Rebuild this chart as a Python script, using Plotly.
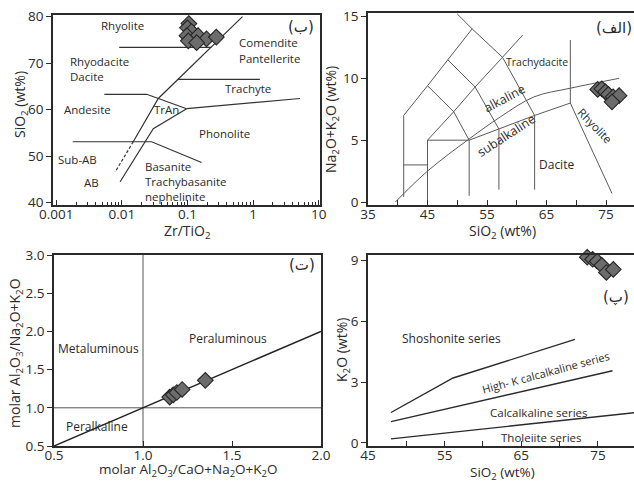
import plotly.graph_objects as go

W, H = 634, 483

# ---------------- DATA ----------------
# Panel (ب) : SiO2 vs Zr/TiO2 (Winchester & Floyd)
wf_zr_tio2 = [0.105, 0.100, 0.115, 0.098, 0.145, 0.195, 0.275, 0.103, 0.138]
wf_sio2 = [78.5, 77.6, 76.8, 75.9, 75.9, 75.2, 75.6, 74.8, 74.4]
wf_xticks = [0.001, 0.01, 0.1, 1, 10]
wf_xticktext = ["0.001", "0.01", "0.1", "1", "10"]
wf_yticks = [40, 50, 60, 70, 80]
# boundary lines
wf_rhy_x, wf_rhy_y = [0.0091, 0.23], [73.4, 73.4]
wf_main_x, wf_main_y = [0.69, 0.0359, 0.0149], [80.0, 62.4, 53.1]
wf_dash_x, wf_dash_y = [0.0149, 0.0079], [53.1, 46.6]
wf_inner_x, wf_inner_y = [0.0094, 0.0301, 0.097], [44.5, 55.9, 60.2]
wf_phon_x, wf_phon_y = [0.097, 5.17], [60.2, 62.4]
wf_and_x, wf_and_y = [0.0054, 0.0239, 0.097], [63.3, 63.3, 60.2]
wf_tra_x, wf_tra_y = [0.0716, 1.27], [66.5, 66.5]
wf_sub_x, wf_sub_y = [0.00178, 0.0284, 0.164], [53.1, 53.1, 48.65]

# Panel (الف) : TAS
tas_sio2 = [73.6, 74.3, 74.9, 75.4, 76.2, 77.2, 76.0]
tas_alk = [9.1, 9.15, 8.9, 8.7, 8.5, 8.6, 8.1]
tas_xticks = [35, 45, 55, 65, 75, 80]
tas_xminor = [40, 50, 60, 70]
tas_yticks = [0, 5, 10, 15]
tas_l1_x, tas_l1_y = [41, 41, 45, 48.4, 52.5], [0.4, 7, 9.4, 11.5, 14]
tas_pc_x, tas_pc_y = [41, 45], [3, 3]
tas_l2_x, tas_l2_y = [45, 45, 49.4, 53, 57.6, 61], [0, 5, 7.3, 9.3, 11.7, 13.5]
tas_b_x, tas_b_y = [45, 52, 52], [5, 5, 0.5]
tas_c1_x, tas_c1_y = [45, 49.4, 52], [9.4, 7.3, 5]
tas_c2_x, tas_c2_y = [48.4, 53, 57, 57], [11.5, 9.3, 5.9, 1]
tas_c3_x, tas_c3_y = [50, 52.5, 57.6, 63, 63], [15.2, 14, 11.7, 7, 1]
tas_sub_x, tas_sub_y = [52, 57, 63, 69], [5, 5.9, 7, 8]
tas_rh_x, tas_rh_y = [69, 69, 76], [13.1, 8, 0.7]
tas_ib_x = [39.6, 45, 52, 57.3, 62.9, 69, 77.2]
tas_ib_y = [0, 2.5, 5.1, 6.9, 8.5, 9.2, 10.0]

# Panel (ت) : A/NK vs A/CNK
ac_acnk = [1.15, 1.17, 1.19, 1.22, 1.35]
ac_ank = [1.14, 1.17, 1.20, 1.24, 1.36]
ac_xticks = [0.5, 1.0, 1.5, 2.0]
ac_xticktext = ["0.5", "1.0", "1.5", "2.0"]
ac_yticks = [0.5, 1.0, 1.5, 2.0, 2.5, 3.0]
ac_yticktext = ["0.5", "1.0", "1.5", "2.0", "2.5", "3.0"]
ac_diag_x, ac_diag_y = [0.5, 2.0], [0.5, 2.0]
ac_v_x, ac_v_y = [1.0, 1.0], [0.5, 3.0]
ac_h_x, ac_h_y = [0.5, 2.0], [1.0, 1.0]

# Panel (پ) : K2O vs SiO2
k_sio2 = [73.6, 74.3, 74.9, 75.5, 76.1, 77.0]
k_k2o = [9.15, 9.05, 8.95, 8.75, 8.4, 8.55]
k_xticks = [45, 55, 65, 75, 80]
k_xminor = [50, 60, 70]
k_yticks = [0, 3, 6, 9]
k_sh_x, k_sh_y = [48, 56.1, 72], [1.5, 3.2, 5.1]
k_hk_x, k_hk_y = [48, 76.9], [1.05, 3.56]
k_th_x, k_th_y = [48, 80], [0.2, 1.5]

# ---------------- FIGURE ----------------
FONT = "Open Sans"
INK = "#2a2a2a"
fig = go.Figure()


def line(xs, ys, n, color="#333333", width=1.1, dash="solid", shape="linear"):
    fig.add_trace(go.Scatter(
        x=xs, y=ys, xaxis="x" + n, yaxis="y" + n, mode="lines",
        line=dict(color=color, width=width, dash=dash, shape=shape),
        hoverinfo="skip", showlegend=False))


def pts(xs, ys, n):
    fig.add_trace(go.Scatter(
        x=xs, y=ys, xaxis="x" + n, yaxis="y" + n, mode="markers",
        marker=dict(symbol="diamond", size=12, color="#6c6c6c",
                    line=dict(color="#252525", width=1.1)),
        cliponaxis=False, showlegend=False))


# panel 1 (top-left)
for xs, ys in [(wf_rhy_x, wf_rhy_y), (wf_main_x, wf_main_y), (wf_inner_x, wf_inner_y),
               (wf_phon_x, wf_phon_y), (wf_and_x, wf_and_y), (wf_tra_x, wf_tra_y),
               (wf_sub_x, wf_sub_y)]:
    line(xs, ys, "", color="#333333", width=1.2)
line(wf_dash_x, wf_dash_y, "", color="#333333", width=1.2, dash="3px,2px")
pts(wf_zr_tio2, wf_sio2, "")

# panel 2 (top-right)
TG = "#5a5a5a"
for xs, ys in [(tas_l1_x, tas_l1_y), (tas_pc_x, tas_pc_y), (tas_l2_x, tas_l2_y),
               (tas_b_x, tas_b_y), (tas_c1_x, tas_c1_y), (tas_c2_x, tas_c2_y),
               (tas_c3_x, tas_c3_y), (tas_sub_x, tas_sub_y), (tas_rh_x, tas_rh_y)]:
    line(xs, ys, "2", color=TG, width=1.0)
line(tas_ib_x, tas_ib_y, "2", color=TG, width=1.0, shape="spline")
pts(tas_sio2, tas_alk, "2")

# panel 3 (bottom-left)
line(ac_v_x, ac_v_y, "3", color="#555555", width=1.0)
line(ac_h_x, ac_h_y, "3", color="#555555", width=1.0)
line(ac_diag_x, ac_diag_y, "3", color="#222222", width=1.5)
pts(ac_acnk, ac_ank, "3")

# panel 4 (bottom-right)
for xs, ys in [(k_sh_x, k_sh_y), (k_hk_x, k_hk_y), (k_th_x, k_th_y)]:
    line(xs, ys, "4", color="#2a2a2a", width=1.4)
pts(k_sio2, k_k2o, "4")

# ---------------- AXES ----------------
def px_x(p):
    return p / W


def px_y(p):
    return 1 - p / H


tickfont = dict(family=FONT, size=13.5, color=INK)
common = dict(showline=True, linecolor=INK, linewidth=1.6, showgrid=False,
              zeroline=False, tickfont=tickfont, tickcolor=INK, ticklen=5,
              tickwidth=1.2, fixedrange=True, automargin=False)
xcommon = dict(common, ticklabelstandoff=-4)

wf_minor = [m * 10 ** e for e in range(-3, 1) for m in range(2, 10)]

fig.update_layout(
    width=W, height=H, margin=dict(l=0, r=0, t=0, b=0, autoexpand=False),
    paper_bgcolor="white", plot_bgcolor="white",
    font=dict(family=FONT, color=INK),
    xaxis=dict(xcommon, type="log", range=[-3.05, 1.02], domain=[px_x(53), px_x(320)],
               anchor="y", tickmode="array", tickvals=wf_xticks, ticktext=wf_xticktext,
               ticks="inside", mirror=True,
               minor=dict(tickmode="array", tickvals=wf_minor, ticks="inside", ticklen=3,
                          tickcolor=INK, showgrid=False)),
    yaxis=dict(common, range=[39.5, 80.35], domain=[px_y(205), px_y(15)], anchor="x",
               tickmode="array", tickvals=wf_yticks, ticks="outside", mirror=True),
    xaxis2=dict(xcommon, range=[35, 79.7], domain=[px_x(368), 1.0], anchor="y2",
                tickmode="array", tickvals=tas_xticks, ticks="inside", mirror=True,
                minor=dict(tickmode="array", tickvals=tas_xminor, ticks="inside",
                           ticklen=5, tickcolor=INK, showgrid=False)),
    yaxis2=dict(common, range=[-0.24, 15.28], domain=[px_y(205), px_y(13)], anchor="x2",
                tickmode="array", tickvals=tas_yticks, ticks="outside", mirror=False),
    xaxis3=dict(xcommon, range=[0.5, 2.0], domain=[px_x(54), px_x(321)], anchor="y3",
                tickmode="array", tickvals=ac_xticks, ticktext=ac_xticktext,
                ticks="inside", mirror=True),
    yaxis3=dict(common, range=[0.5, 3.0], domain=[px_y(446), px_y(255)], anchor="x3",
                tickmode="array", tickvals=ac_yticks, ticktext=ac_yticktext,
                ticks="outside", mirror=True),
    xaxis4=dict(xcommon, range=[45, 79.7], domain=[px_x(368), 1.0], anchor="y4",
                tickmode="array", tickvals=k_xticks, ticks="inside", mirror=True,
                minor=dict(tickmode="array", tickvals=k_xminor, ticks="inside",
                           ticklen=5, tickcolor=INK, showgrid=False)),
    yaxis4=dict(common, range=[-0.15, 9.26], domain=[px_y(446), px_y(255)], anchor="x4",
                tickmode="array", tickvals=k_yticks, ticks="outside", mirror=False),
)

# ---------------- TEXT ----------------
ann = []


def txt(s, x, y, size=11.5, angle=0, xanchor="center", color=INK, family=FONT):
    ann.append(dict(text=s, x=px_x(x), y=px_y(y), xref="paper", yref="paper",
                    showarrow=False, xanchor=xanchor, yanchor="middle",
                    textangle=angle, font=dict(family=family, size=size, color=color)))


LRE, PDF = "\u202a", "\u202c"
AR = "DejaVu Sans"

# axis titles
txt("SiO<sub>2</sub> (wt%)", 21, 105, size=14, angle=-90)
txt("Zr/TiO<sub>2</sub>", 187, 232, size=14)
txt("Na<sub>2</sub>O+K<sub>2</sub>O (wt%)", 331, 120, size=14, angle=-90)
txt("SiO<sub>2</sub> (wt%)", 502, 232, size=14)
txt("molar Al<sub>2</sub>O<sub>3</sub>/Na<sub>2</sub>O+K<sub>2</sub>O", 15, 353, size=14, angle=-90)
txt("molar Al<sub>2</sub>O<sub>3</sub>/CaO+Na<sub>2</sub>O+K<sub>2</sub>O", 188, 470, size=13.5)
txt("K<sub>2</sub>O (wt%)", 342, 350, size=14, angle=-90)
txt("SiO<sub>2</sub> (wt%)", 502, 473, size=13.5)

# panel (ب)
txt("Rhyolite", 122, 25)
txt("Comendite", 237, 43, xanchor="left")
txt("Pantellerite", 237, 58, xanchor="left")
txt("Rhyodacite", 68, 62, xanchor="left")
txt("Dacite", 68, 76, xanchor="left")
txt("Trachyte", 248, 88)
txt("Andesite", 87, 109)
txt("TrAn", 166, 109)
txt("Phonolite", 224, 134)
txt("Sub-AB", 77, 159)
txt("AB", 91, 182)
txt("Basanite", 143, 166, xanchor="left")
txt("Trachybasanite", 143, 181, xanchor="left")
txt("nephelinite", 143, 196, xanchor="left")
txt(LRE + "(ب)" + PDF, 301, 27, size=15, family=AR)

# panel (الف)
txt("Trachydacite", 537, 62, size=10.5)
txt("alkaline", 504, 98, size=12.5, angle=-28)
txt("subalkaline", 506, 135, size=12.5, angle=-33)
txt("Dacite", 556, 164, size=12)
txt("Rhyolite", 595, 125, size=11.5, angle=46)
txt(LRE + "(الف)" + PDF, 614, 28, size=15, family=AR)

# panel (ت)
txt("Metaluminous", 98, 348, size=12)
txt("Peraluminous", 228, 338, size=12)
txt("Peralkaline", 97, 426, size=12)
txt(LRE + "(ت)" + PDF, 302, 265, size=15, family=AR)

# panel (پ)
txt("Shoshonite series", 451, 338, size=12)
txt("High- K calcalkaline series", 545, 372, size=11, angle=-15)
txt("Calcalkaline series", 539, 412, size=11.5)
txt("Tholeiite series", 541, 437, size=11.5)
txt(LRE + "(پ)" + PDF, 616, 297, size=15, family=AR)

fig.update_layout(annotations=ann)
fig.write_html(
    "out.html",
    config={"displayModeBar": False},
    post_script="document.body.style.margin='0px';document.body.style.overflow='hidden';",
)
